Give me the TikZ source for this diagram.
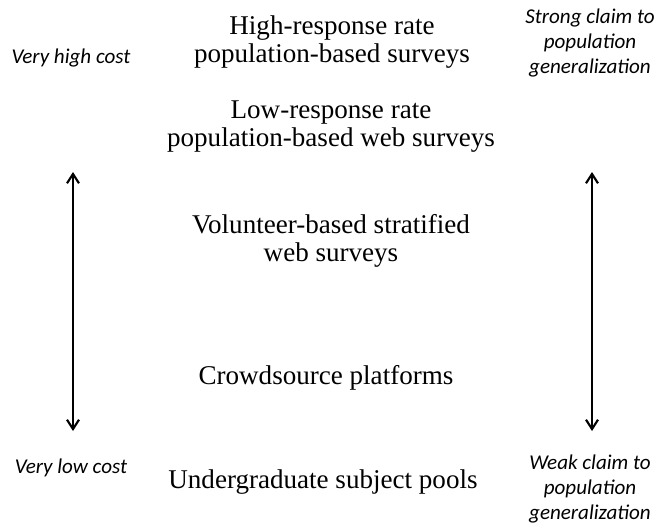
\documentclass[tikz,border=0pt]{standalone}
\usepackage{fontspec}
\setmainfont{Liberation Serif}
\newfontfamily\sidefont{Carlito}
\usetikzlibrary{arrows.meta,positioning}

\tikzset{
  level/.style={align=center, font=\fontsize{20.3}{21}\selectfont},
  side/.style={align=center, font=\sidefont\itshape\fontsize{15.8}{18.5}\selectfont},
  scale arrow/.style={{Straight Barb[length=7pt,width=9pt,line width=1.6pt]}-{Straight Barb[length=7pt,width=9pt,line width=1.6pt]}, line width=1.6pt}
}

\begin{document}
\begin{tikzpicture}[x=0.75pt, y=-0.75pt]
  \useasboundingbox (0,0) rectangle (655,525);

  % survey types, top to bottom
  \node (highrate) [level] at (332,42) {High-response rate\\population-based surveys};
  \node (lowrate) [level] at (331,127) {Low-response rate\\population-based web surveys};
  \node (volunteer) [level] at (331,241) {Volunteer-based stratified\\web surveys};
  \node (crowd) [level] at (326,378) {Crowdsource platforms};
  \node (undergrad) [level] at (323,482) {Undergraduate subject pools};

  % cost scale
  \node (hicost) [side] at (71,58) {Very high cost};
  \node (locost) [side] at (71,468) {Very low cost};
  \coordinate (costtop) at (73,172);
  \coordinate (costbot) at (73,431);
  \draw[scale arrow] (costtop) -- (costbot);

  % generalization scale
  \node (strong) [side] at (590,43) {Strong claim to\\population\\generalization};
  \node (weak) [side] at (590,489) {Weak claim to\\population\\generalization};
  \coordinate (gentop) at (592,172);
  \coordinate (genbot) at (592,431);
  \draw[scale arrow] (gentop) -- (genbot);
\end{tikzpicture}
\end{document}
